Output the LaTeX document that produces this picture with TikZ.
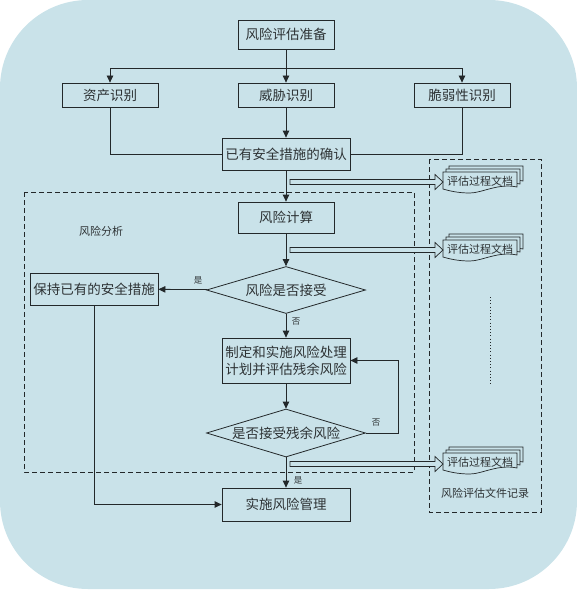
\documentclass[tikz,border=0pt]{standalone}
\usepackage{fontspec}
\setmainfont{Noto Sans CJK SC}
\usetikzlibrary{arrows.meta,shapes.geometric,calc}
\definecolor{bg}{RGB}{201,226,233}
\definecolor{lc}{RGB}{35,40,42}
\definecolor{tc}{RGB}{45,50,52}
\newcommand\docstack[4]{%
  \foreach \o in {6,3,0}{%
    \filldraw[fill=bg,draw=lc,line width=0.7pt]
      (#1-37+\o,#2-9-\o) -- (#1+37+\o,#2-9-\o) -- (#1+37+\o,#2+6-\o)
      .. controls (#1+18+\o,#2+2-\o) and (#1+2+\o,#2+12-\o) .. (#1-10+\o,#2+12-\o)
      .. controls (#1-22+\o,#2+12-\o) and (#1-30+\o,#2+10-\o) .. (#1-37+\o,#2+8-\o) -- cycle;
  }
  \node[doctxt] (#3) at (#1,#2) {#4};
}
\newcommand\hollowarrow[3]{%
  \filldraw[fill=bg,draw=lc,line width=0.7pt]
    (#1,#3-2.5) -- (#2-8,#3-2.5) -- (#2-8,#3-7.5) -- (#2,#3) -- (#2-8,#3+7.5)
    -- (#2-8,#3+2.5) -- (#1,#3+2.5) -- cycle;
}
\begin{document}
\begin{tikzpicture}[x=1pt,y=-1pt,
  every node/.style={text=tc},
  box/.style={draw=lc,line width=0.8pt,minimum height=24pt,minimum width=96pt,inner sep=0pt,font=\fontsize{13.5}{17}\selectfont,align=center},
  dia/.style={draw=lc,line width=0.8pt,diamond,aspect=3.2,inner sep=0pt,minimum width=159pt,font=\fontsize{13.5}{17}\selectfont},
  lbl/.style={font=\fontsize{11}{13}\selectfont,inner sep=0pt},
  yn/.style={font=\fontsize{8.5}{10}\selectfont,inner sep=0pt},
  doctxt/.style={font=\fontsize{11}{13}\selectfont,inner sep=0pt},
  conn/.style={draw=lc,line width=0.8pt},
  arr/.style={conn,-{Triangle[length=7pt,width=6.5pt]}},
  dsh/.style={draw=lc,line width=0.8pt,dash pattern=on 5pt off 3pt}
]
\useasboundingbox (0,0) rectangle (577,591);
\fill[bg,rounded corners=88pt] (0,0) rectangle (577,589);

% dashed regions
\draw[dsh] (24,192) rectangle (414,472);
\draw[dsh] (429,159) rectangle (541,512);
\node[lbl] (ra) at (101,231) {风险分析};
\node[lbl] (rec) at (485,493) {风险评估文件记录};
\draw[lc,line width=1pt,dash pattern=on 1pt off 2.2pt] (490,297) -- (490,385);

% main nodes
\node[box,minimum height=29pt] (prep) at (286,34.5) {风险评估准备};
\node[box] (asset) at (110,95) {资产识别};
\node[box] (threat) at (286,95) {威胁识别};
\node[box] (vuln) at (462,95) {脆弱性识别};
\node[box,minimum width=128pt,minimum height=32pt] (confirm) at (286,154) {已有安全措施的确认};
\node[box,minimum height=31pt] (calc) at (286,217.5) {风险计算};
\node[dia,minimum height=47pt] (accept) at (286,290) {风险是否接受};
\node[box,minimum width=128pt,minimum height=32pt] (keep) at (94,289) {保持已有的安全措施};
\node[box,minimum width=128pt,minimum height=45pt] (plan) at (286,360.5) {制定和实施风险处理\\计划并评估残余风险};
\node[dia,minimum height=48pt] (resid) at (286,433) {是否接受残余风险};
\node[box,minimum width=128pt,minimum height=33pt] (impl) at (286,504.5) {实施风险管理};

% connectors
\coordinate (sp) at (286,68);
\draw[conn] (prep) -- (sp);
\draw[arr] (sp) -| (asset);
\draw[arr] (sp) -| (vuln);
\draw[arr] (sp) -- (threat);
\draw[arr] (threat) -- (confirm);
\draw[conn] (asset) |- (confirm);
\draw[conn] (vuln) |- (confirm);
\draw[arr] (confirm) -- (calc);
\draw[arr] (calc) -- (accept);
\draw[arr] (accept) -- (keep);
\node[yn] at (198,280) {是};
\draw[arr] (accept) -- (plan);
\node[yn] at (296,322) {否};
\draw[arr] (plan) -- (resid);
\coordinate (fb) at (398,433);
\draw[arr] (resid.east) -- (fb) |- (plan.east);
\node[yn] at (376,423) {否};
\draw[arr] (resid) -- (impl);
\node[yn] at (298,480) {是};
\draw[arr] (keep) |- (impl);

% documents and hollow arrows
\docstack{480}{181}{d1}{评估过程文档}
\docstack{480}{249}{d2}{评估过程文档}
\docstack{480}{462}{d3}{评估过程文档}
\hollowarrow{290}{443}{182}
\hollowarrow{290}{443}{250}
\hollowarrow{290}{443}{464}
\end{tikzpicture}
\end{document}
